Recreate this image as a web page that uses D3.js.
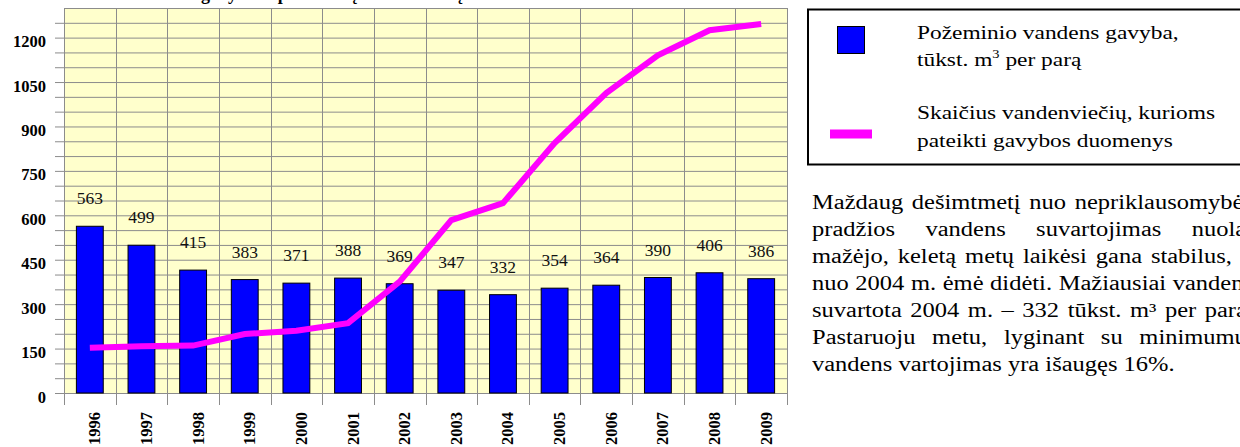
<!DOCTYPE html>
<html>
<head>
<meta charset="utf-8">
<script src="https://cdn.jsdelivr.net/npm/d3@7"></script>
<style>
  body { margin: 0; overflow: hidden; background: #fff; font-family: 'Liberation Serif', serif; }
  #chart { position: absolute; left: 0; top: 0; }
  #note {
    position: absolute; left: 812px; top: 189px; width: 360px;
    font-family: 'Liberation Serif', serif; font-size: 20px; line-height: 27px; color: #000;
    transform: scaleX(1.225); transform-origin: 0 0;
  }
  #note div { text-align: justify; text-align-last: justify; }
  #note div.last { text-align-last: left; }
</style>
</head>
<body>
<div id="chart"></div>
<div id="note"></div>
<script>
const years = [1996, 1997, 1998, 1999, 2000, 2001, 2002, 2003, 2004, 2005, 2006, 2007, 2008, 2009]
// pozeminio vandens gavyba, tukst. m3 per para
const extraction = [563, 499, 415, 383, 371, 388, 369, 347, 332, 354, 364, 390, 406, 386]
// vandenvieciu skaicius
const wellCount = [153, 158, 160, 199, 210, 236, 376, 584, 641, 844, 1013, 1140, 1225, 1246]
const yTicks = [0, 150, 300, 450, 600, 750, 900, 1050, 1200]

const legendLabels = [
  ['Požeminio vandens gavyba,', 'tūkst. m', ' per parą'],
  ['Skaičius vandenviečių, kurioms', 'pateikti gavybos duomenys']
]
const noteLines = [
  'Maždaug dešimtmetį nuo nepriklausomybės',
  'pradžios vandens suvartojimas nuolat',
  'mažėjo, keletą metų laikėsi gana stabilus, o',
  'nuo 2004 m. ėmė didėti. Mažiausiai vandens',
  'suvartota 2004 m. – 332 tūkst. m³ per parą.',
  'Pastaruoju metu, lyginant su minimumu,',
  'vandens vartojimas yra išaugęs 16%.'
]

const width = 1240
const height = 447
const plot = { left: 64, right: 787, top: 8, bottom: 393 }
const serif = 'Liberation Serif'

const data = years.map((yr, i) => ({ year: yr, value: extraction[i], count: wellCount[i] }))

const svg = d3.select('#chart')
  .append('svg')
  .attr('width', width)
  .attr('height', height)
  .attr('font-family', serif)

const x = d3.scaleBand().domain(years).range([plot.left, plot.right])
const xBar = x.copy().paddingInner(0.48).paddingOuter(0.24)
const y = d3.scaleLinear().domain([0, 1300]).range([plot.bottom, plot.top])

// title, mostly cut off at the top edge
svg.append('text')
  .attr('x', 330)
  .attr('y', 0)
  .attr('text-anchor', 'middle')
  .attr('font-weight', 'bold')
  .attr('font-size', 18)
  .text('Vandens gavyba ir pateikusių vandenviečių skaičius')

svg.append('rect')
  .attr('x', plot.left)
  .attr('y', plot.top)
  .attr('width', plot.right - plot.left)
  .attr('height', plot.bottom - plot.top)
  .attr('fill', '#FFFFCC')

// horizontal grid every 50, with small ticks on the left
svg.append('g')
  .selectAll('line')
  .data(d3.range(0, 1301, 50))
  .enter()
  .append('line')
  .attr('x1', d => (d === 1300 ? plot.left : plot.left - 9))
  .attr('x2', plot.right)
  .attr('y1', d => y(d) + 0.5)
  .attr('y2', d => y(d) + 0.5)
  .attr('stroke', '#8c8c8c')

// vertical grid at the category boundaries, going below the axis
svg.append('g')
  .selectAll('line')
  .data(years.map(d => x(d)).concat([plot.right]))
  .enter()
  .append('line')
  .attr('x1', d => Math.round(d) + 0.5)
  .attr('x2', d => Math.round(d) + 0.5)
  .attr('y1', plot.top)
  .attr('y2', plot.bottom + 12)
  .attr('stroke', '#8c8c8c')

svg.append('g')
  .selectAll('rect')
  .data(data)
  .enter()
  .append('rect')
  .attr('x', d => xBar(d.year))
  .attr('y', d => y(d.value))
  .attr('width', xBar.bandwidth())
  .attr('height', d => y(0) - y(d.value))
  .attr('fill', '#0000FF')
  .attr('stroke', '#000')
  .attr('stroke-width', 1)

svg.append('g')
  .selectAll('text')
  .data(data)
  .enter()
  .append('text')
  .attr('x', d => xBar(d.year) + xBar.bandwidth() / 2)
  .attr('y', d => y(d.value) - 22)
  .attr('text-anchor', 'middle')
  .attr('font-size', 17.5)
  .attr('fill', '#111')
  .text(d => d.value)

const line = d3.line()
  .x(d => x(d.year) + x.bandwidth() / 2)
  .y(d => y(d.count))

svg.append('path')
  .datum(data)
  .attr('d', line)
  .attr('fill', 'none')
  .attr('stroke', '#FF00FF')
  .attr('stroke-width', 6)
  .attr('stroke-linejoin', 'miter')

// y labels
svg.append('g')
  .selectAll('text')
  .data(yTicks)
  .enter()
  .append('text')
  .attr('x', 46)
  .attr('y', d => y(d) + 9.5)
  .attr('text-anchor', 'end')
  .attr('font-weight', 'bold')
  .attr('font-size', 16.5)
  .text(d => d)

// x labels, rotated
svg.append('g')
  .selectAll('text')
  .data(years)
  .enter()
  .append('text')
  .attr('transform', d => `translate(${x(d) + x.bandwidth() / 2 + 10.5},${plot.bottom + 19}) rotate(-90)`)
  .attr('text-anchor', 'end')
  .attr('font-weight', 'bold')
  .attr('font-size', 16.5)
  .text(d => d)

// legend
const legend = svg.append('g')

legend.append('rect')
  .attr('x', 808)
  .attr('y', 9.5)
  .attr('width', 500)
  .attr('height', 155)
  .attr('fill', '#fff')
  .attr('stroke', '#000')
  .attr('stroke-width', 2)

legend.append('rect')
  .attr('x', 837.5)
  .attr('y', 26.5)
  .attr('width', 27)
  .attr('height', 27)
  .attr('fill', '#0000FF')
  .attr('stroke', '#000')

legend.append('rect')
  .attr('x', 830)
  .attr('y', 129.5)
  .attr('width', 42)
  .attr('height', 9)
  .attr('fill', '#FF00FF')

const legendText = (ty, build) => {
  const t = legend.append('text')
    .attr('transform', `translate(917,${ty}) scale(1.2,1)`)
    .attr('font-size', 19.5)
    .attr('fill', '#000')
  build(t)
}

legendText(39, t => t.text(legendLabels[0][0]))
legendText(66, t => {
  t.append('tspan').text(legendLabels[0][1])
  t.append('tspan').attr('dy', -8).attr('font-size', 12).text('3')
  t.append('tspan').attr('dy', 8).text(legendLabels[0][2])
})
legendText(119, t => t.text(legendLabels[1][0]))
legendText(146.5, t => t.text(legendLabels[1][1]))

// text beside the chart
d3.select('#note')
  .selectAll('div')
  .data(noteLines)
  .enter()
  .append('div')
  .attr('class', (d, i) => (i === noteLines.length - 1 ? 'last' : null))
  .text(d => d)
</script>
</body>
</html>
